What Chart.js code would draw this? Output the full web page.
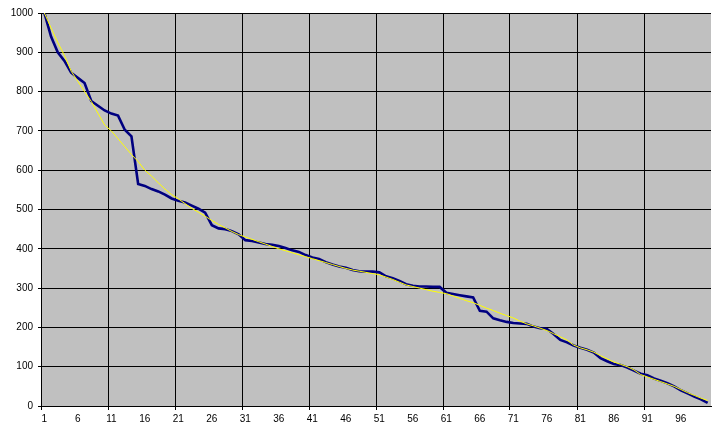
<!DOCTYPE html>
<html>
<head>
<meta charset="utf-8">
<script src="https://cdn.jsdelivr.net/npm/chart.js@4.4.1/dist/chart.umd.min.js"></script>
<style>
  html, body { margin: 0; padding: 0; background: #fff; }
  #wrap { width: 718px; height: 435px; }
</style>
</head>
<body>
<div id="wrap"><canvas id="myChart"></canvas></div>
<script>
// categories 1..100
var categories = [];
for (var i = 1; i <= 100; i++) categories.push(String(i));

var navyValues = [
  1000, 940, 900, 878, 848, 835, 822, 776, 764, 752,
  744, 739, 703, 686, 565, 560, 552, 546, 538, 528,
  522, 518, 510, 502, 492, 460, 452, 450, 445, 437,
  422, 420, 416, 412, 410, 407, 402, 396, 392, 384,
  378, 374, 366, 360, 355, 352, 346, 343, 342, 342,
  340, 330, 325, 318, 310, 306, 304, 304, 303, 303,
  288, 285, 282, 279, 276, 242, 240, 223, 218, 214,
  211, 210, 209, 202, 198, 196, 183, 168, 162, 154,
  148, 143, 136, 122, 114, 107, 104, 98, 90, 82,
  78, 70, 64, 58, 50, 40, 32, 24, 17, 8
];

var yellowValues = [
  1000, 962, 925, 892, 852, 826, 800, 775, 745, 715,
  700, 680, 660, 640, 622, 600, 585, 568, 552, 538,
  527, 515, 503, 493, 483, 472, 462, 453, 444, 436,
  430, 424, 418, 412, 406, 400, 395, 390, 385, 380,
  375, 370, 365, 360, 355, 350, 346, 343, 340, 337,
  334, 328, 322, 315, 308, 304, 300, 296, 292, 289,
  286, 280, 274, 268, 263, 256, 249, 243, 236, 230,
  224, 216, 209, 204, 198, 192, 184, 176, 168, 155,
  148, 143, 137, 128, 120, 112, 106, 100, 92, 80,
  74, 68, 62, 56, 50, 42, 34, 27, 20, 14
];

var textColor = '#000000';

var plotBackground = {
  id: 'plotBackground',
  beforeDraw: function (chart) {
    var a = chart.chartArea;
    var c = chart.ctx;
    c.save();
    c.fillStyle = '#C0C0C0';
    c.fillRect(a.left, a.top, a.right - a.left, a.bottom - a.top);
    c.restore();
  }
};

new Chart(document.getElementById('myChart'), {
  type: 'line',
  data: {
    labels: categories,
    datasets: [{
      label: 'Series 1',
      data: navyValues,
      borderColor: '#000080',
      borderWidth: 2.6,
      pointRadius: 0,
      tension: 0,
      order: 1
    }, {
      label: 'Series 2',
      data: yellowValues,
      borderColor: '#FFFF00',
      borderWidth: 1,
      pointRadius: 0,
      tension: 0,
      order: 0
    }]
  },
  options: {
    responsive: true,
    maintainAspectRatio: false,
    animation: false,
    layout: { padding: { top: 13, right: 7, left: 0, bottom: 0 } },
    scales: {
      x: {
        type: 'category',
        offset: true,
        afterFit: function (scale) { scale.height = 29; },
        grid: {
          offset: true,
          color: function (ctx) {
            return (ctx.index % 10 === 0 && ctx.index < 100) ? '#000' : 'rgba(0,0,0,0)';
          },
          tickColor: function (ctx) {
            return ctx.index % 10 === 0 ? '#000' : 'rgba(0,0,0,0)';
          },
          tickLength: 4,
          lineWidth: 1
        },
        border: { color: '#000', width: 1 },
        ticks: {
          autoSkip: false,
          maxRotation: 0,
          padding: 3,
          color: textColor,
          font: { family: 'Liberation Sans, Arial, sans-serif', size: 10 },
          callback: function (value, index) {
            return index % 5 === 0 ? this.getLabelForValue(value) : '';
          }
        }
      },
      y: {
        min: 0,
        max: 1000,
        afterFit: function (scale) { scale.width = 41; },
        grid: {
          color: '#000',
          tickColor: '#000',
          tickLength: 3,
          lineWidth: 1
        },
        border: { color: '#000', width: 1 },
        ticks: {
          stepSize: 100,
          padding: 5,
          color: textColor,
          font: { family: 'Liberation Sans, Arial, sans-serif', size: 10 },
          callback: function (value) { return String(value); }
        }
      }
    },
    plugins: {
      legend: { display: false },
      tooltip: { enabled: false }
    }
  },
  plugins: [plotBackground]
});
</script>
</body>
</html>
